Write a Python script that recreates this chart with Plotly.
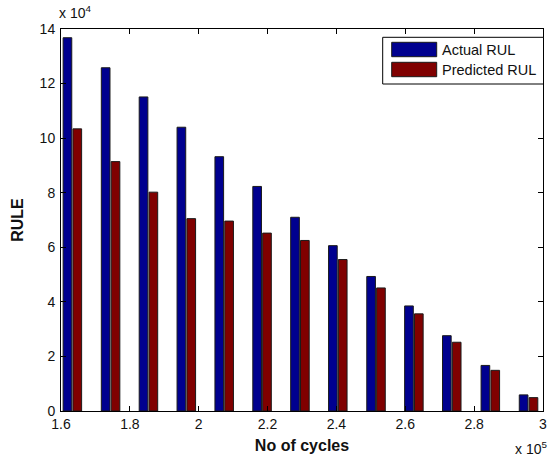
import plotly.graph_objects as go

# ---- data ----
cycles = [163300, 174400, 185400, 196400, 207400, 218400, 229400,
          240400, 251500, 262500, 273500, 284700, 295800]
actual_rul = [136800, 125800, 115100, 104000, 93200, 82300, 71000,
              60600, 49300, 38500, 27600, 16700, 5900]
predicted_rul = [103400, 91400, 80200, 70500, 69600, 65200, 62500,
                 55500, 45100, 35600, 25200, 14900, 4900]

x_tickvals = [160000, 180000, 200000, 220000, 240000, 260000, 280000, 300000]
x_ticktext = ["1.6", "1.8", "2", "2.2", "2.4", "2.6", "2.8", "3"]
y_tickvals = [0, 20000, 40000, 60000, 80000, 100000, 120000, 140000]
y_ticktext = ["0", "2", "4", "6", "8", "10", "12", "14"]

series_names = ["Actual RUL", "Predicted RUL"]
series_colors = ["#00008F", "#800000"]

FONT = "Liberation Sans, Arial, Helvetica, sans-serif"
W, H = 549, 461
ML, MR, MT, MB = 61, 6, 29, 50
PW, PH = W - ML - MR, H - MT - MB


def px_x(p):
    return (p - ML) / PW


def px_y(p):
    return (H - MB - p) / PH


fig = go.Figure()
for name, vals, col in zip(series_names, [actual_rul, predicted_rul], series_colors):
    fig.add_trace(go.Bar(
        x=cycles, y=vals, name=name,
        marker=dict(color=col, line=dict(color="#1a1a1a", width=1)),
        showlegend=False,
    ))

axis_common = dict(
    showline=True, linecolor="black", linewidth=1, mirror="ticks",
    ticks="inside", ticklen=5, tickcolor="black", tickwidth=1,
    showgrid=False, zeroline=False,
    tickfont=dict(family=FONT, size=14, color="#111"),
)

fig.update_layout(
    width=W, height=H,
    margin=dict(l=ML, r=MR, t=MT, b=MB),
    paper_bgcolor="white", plot_bgcolor="white",
    barmode="group", bargap=0.48, bargroupgap=0.12,
    font=dict(family=FONT, color="#111"),
    xaxis=dict(range=[160000, 300000], tickvals=x_tickvals, ticktext=x_ticktext,
               title=dict(text="<b>No of cycles</b>", font=dict(family=FONT, size=16, color="#111"),
                          standoff=9),
               automargin=False, **axis_common),
    yaxis=dict(range=[0, 140000], tickvals=y_tickvals, ticktext=y_ticktext,
               title=dict(text="<b>RULE</b>", font=dict(family=FONT, size=16, color="#111"),
                          standoff=12),
               automargin=False, ticklabelstandoff=2, **axis_common),
)

# multiplier labels
fig.add_annotation(text="x 10<sup>4</sup>", xref="paper", yref="paper",
                   x=px_x(57), y=px_y(23), xanchor="left", yanchor="bottom",
                   showarrow=False, font=dict(family=FONT, size=14, color="#111"))
fig.add_annotation(text="x 10<sup>5</sup>", xref="paper", yref="paper",
                   x=px_x(549), y=px_y(459), xanchor="right", yanchor="bottom",
                   showarrow=False, font=dict(family=FONT, size=14, color="#111"))

# legend (MATLAB-style box with wide swatches)
fig.add_shape(type="rect", xref="paper", yref="paper",
              x0=px_x(382.7), x1=px_x(543.5), y0=px_y(84), y1=px_y(37.3),
              line=dict(color="black", width=1), fillcolor="white", layer="above")
sw_y = [(42.3, 56.7), (62.3, 76.7)]
for (t, b), name, col in zip(sw_y, series_names, series_colors):
    fig.add_shape(type="rect", xref="paper", yref="paper",
                  x0=px_x(391.7), x1=px_x(436.7), y0=px_y(b), y1=px_y(t),
                  line=dict(color="#1a1a1a", width=1), fillcolor=col, layer="above")
    fig.add_annotation(text=name, xref="paper", yref="paper",
                       x=px_x(439.5), y=px_y((t + b) / 2), xanchor="left", yanchor="middle",
                       showarrow=False, font=dict(family=FONT, size=14.5, color="#111"))

fig.write_html("out.html",
               config={"displayModeBar": False},
               post_script="document.body.style.margin='0';document.body.style.overflow='hidden';")
